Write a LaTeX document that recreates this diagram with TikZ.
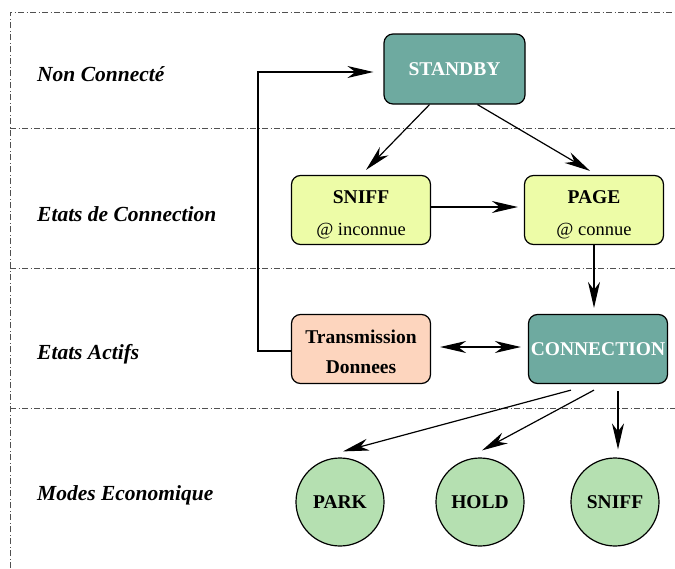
\documentclass[tikz,border=0pt]{standalone}
\usepackage{fontspec}
\setmainfont{Liberation Serif}
\usetikzlibrary{arrows.meta}
\definecolor{teal1}{HTML}{6EAAA0}
\definecolor{yel1}{HTML}{EDFCA7}
\definecolor{peach1}{HTML}{FDD5BE}
\definecolor{green1}{HTML}{B5E0B1}
\definecolor{sep}{HTML}{505050}
\newcommand{\subtxt}[1]{{\fontsize{18.5}{22}\selectfont\mdseries #1}}
\begin{document}
\begin{tikzpicture}[x=1pt,y=-1pt,
  box/.style={draw=black,line width=1.2pt,rounded corners=9pt,minimum width=139pt,minimum height=69pt,align=center,inner sep=0pt,font=\fontsize{19.5}{23}\selectfont\bfseries},
  tealbox/.style={box,fill=teal1,text=white},
  yelbox/.style={box,fill=yel1},
  peachbox/.style={box,fill=peach1},
  mode/.style={circle,draw=black,line width=1.2pt,fill=green1,minimum size=88pt,inner sep=0pt,font=\fontsize{19.5}{23}\selectfont\bfseries},
  lab/.style={anchor=west,font=\fontsize{21.5}{25}\selectfont\bfseries\itshape,inner sep=0pt},
  sepline/.style={draw=sep,line width=0.8pt,dash pattern=on 6pt off 2.5pt on 1pt off 2.5pt},
  tip/.tip={Stealth[length=26pt,width=12pt,inset=8pt]},
  conn/.style={draw=black,line width=1.2pt,-tip}
]
\useasboundingbox (0,0) rectangle (675,568);
% separators
\draw[sepline] (10,568) -- (10,12) -- (675,12);
\draw[sepline] (10,128) -- (675,128);
\draw[sepline] (10,268) -- (675,268);
\draw[sepline] (10,408) -- (675,408);
% labels
\node[lab] (l1) at (37,74) {Non Connecté};
\node[lab] (l2) at (37,214) {Etats de Connection};
\node[lab] (l3) at (37,354) {Etats Actifs};
\node[lab] (l4) at (37,495) {Modes Economique};
% nodes
\node[tealbox,minimum width=141pt,minimum height=70pt] (standby) at (454.5,69) {STANDBY};
\node[yelbox] (sniff) at (361,210) {\rule{0pt}{22pt}SNIFF\\[9pt]\subtxt{@ inconnue}};
\node[yelbox] (page) at (594,210) {\rule{0pt}{22pt}PAGE\\[9pt]\subtxt{@ connue}};
\node[peachbox] (trans) at (361,349) {\rule{0pt}{20pt}Transmission\\[7pt]Donnees};
\node[tealbox] (cnx) at (598,349) {CONNECTION};
\node[mode] (park) at (340,502) {PARK};
\node[mode] (hold) at (480,502) {HOLD};
\node[mode] (sniff2) at (615,502) {SNIFF};
% connectors
\draw[conn] ([xshift=-25pt]standby.south) -- ([xshift=5pt,yshift=5pt]sniff.north);
\draw[conn] ([xshift=23pt]standby.south) -- ([xshift=-4pt,yshift=4pt]page.north);
\draw[conn] ([yshift=3pt]sniff.east) -- ([xshift=-6pt,yshift=3pt]page.west);
\draw[conn] (page.south) -- ([yshift=6pt]page.south |- cnx.north);
\draw[draw=black,line width=1.2pt,tip-tip] ([xshift=9pt,yshift=2pt]trans.east) -- ([xshift=-7pt,yshift=2pt]cnx.west);
\draw[conn] ([yshift=-2pt]trans.west) -- ++(-33,0) |- ([xshift=-10pt,yshift=-3pt]standby.west);
\draw[conn] ([xshift=-27pt,yshift=-6pt]cnx.south) -- ([xshift=3pt,yshift=6pt]park.north);
\draw[conn] ([xshift=-4pt,yshift=-6pt]cnx.south) -- ([xshift=2pt,yshift=7pt]hold.north);
\draw[conn] ([xshift=20pt,yshift=-7pt]cnx.south) -- ([xshift=3pt,yshift=8pt]sniff2.north);
\end{tikzpicture}
\end{document}
